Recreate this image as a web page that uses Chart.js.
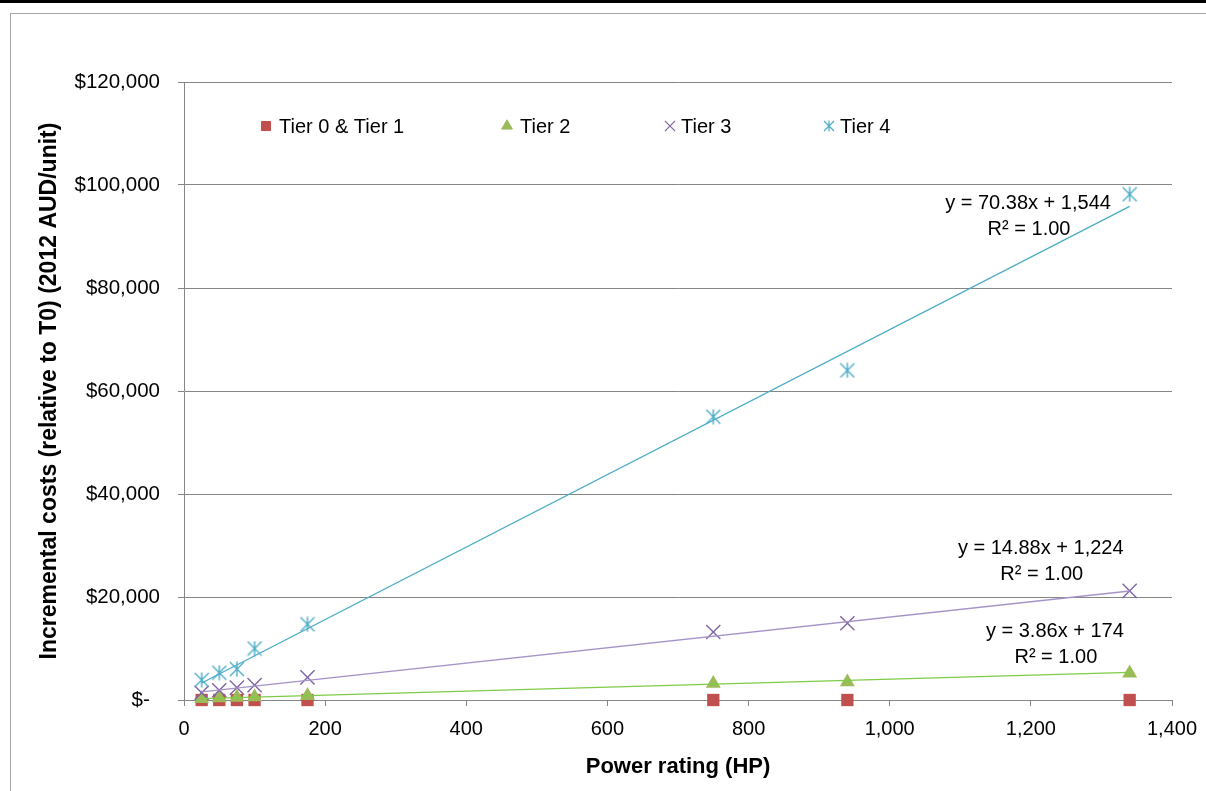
<!DOCTYPE html>
<html>
<head>
<meta charset="utf-8">
<script src="https://cdn.jsdelivr.net/npm/chart.js@4.4.0/dist/chart.umd.min.js"></script>
<style>
  html, body { margin: 0; padding: 0; background: #fff; }
  #page { position: relative; width: 1206px; height: 791px; overflow: hidden; }
  #topbar { position: absolute; left: 0; top: 0; width: 1206px; height: 3px; background: #000; }
  #frame { position: absolute; left: 10px; top: 13px; width: 1400px; height: 1000px;
           border-left: 1px solid #a6a6a6; border-top: 1px solid #a6a6a6; }
  canvas { position: absolute; left: 0; top: 0; }
</style>
</head>
<body>
<div id="page">
  <div id="topbar"></div>
  <div id="frame"></div>
  <canvas id="chart" width="1206" height="791"></canvas>
</div>
<script>
// Engine power ratings (HP) and incremental cost per unit (2012 AUD)
const powerHP = [25, 50, 75, 100, 175, 750, 940, 1340];
const tier01  = [0, 0, 0, 0, 0, 0, 0, 0];
const tier2   = [250, 400, 500, 600, 850, 3200, 3500, 5200];
const tier3   = [1400, 1900, 2400, 2900, 4400, 13200, 14900, 21200];
const tier4   = [3900, 5300, 6000, 10000, 14700, 55000, 64000, 98200];
const seriesNames = ['Tier 0 & Tier 1', 'Tier 2', 'Tier 3', 'Tier 4'];

// Linear trendlines (Tier 2, Tier 3, Tier 4)
const trendSlopes     = [3.86, 14.88, 70.38];
const trendIntercepts = [174, 1224, 1544];
const trendR2         = [1.00, 1.00, 1.00];

const xTicks = [0, 200, 400, 600, 800, 1000, 1200, 1400];
const yTicks = [0, 20000, 40000, 60000, 80000, 100000, 120000];

const FONT = 'Liberation Sans';
const C_RED = '#c0504d', C_GREEN = '#9bbb59', C_PURPLE = '#8064a2', C_CYAN = '#4bacc6';
const TREND_COLORS = ['#7ecb45', '#a593c8', '#4bacc6'];

// Asterisk marker: diagonal cross plus a vertical stroke
function asterisk(size, color, lw) {
  const c = document.createElement('canvas');
  c.width = c.height = size;
  const g = c.getContext('2d');
  g.strokeStyle = color;
  g.lineWidth = lw;
  const m = size / 2, r = size / 2 - 1;
  g.beginPath();
  g.moveTo(m - r, m - r); g.lineTo(m + r, m + r);
  g.moveTo(m + r, m - r); g.lineTo(m - r, m + r);
  g.moveTo(m, m - r - 0.5); g.lineTo(m, m + r + 0.5);
  g.stroke();
  return c;
}
const starBig = asterisk(16, C_CYAN, 1.4);
const starSmall = asterisk(12, C_CYAN, 1.2);

const pts = ys => powerHP.map((x, i) => ({ x: x, y: ys[i] }));
const trendPts = k => [powerHP[0], powerHP[powerHP.length - 1]]
  .map(x => ({ x: x, y: trendSlopes[k] * x + trendIntercepts[k] }));

const fmtInt = v => Math.round(v).toLocaleString('en-US');
const eqText = k => 'y = ' + trendSlopes[k].toFixed(2) + 'x + ' + fmtInt(trendIntercepts[k]);
const r2Text = k => 'R\u00B2 = ' + trendR2[k].toFixed(2);

// Legend drawn inside the plot area
const insideLegend = {
  id: 'insideLegend',
  afterDatasetsDraw(chart, args, opts) {
    const ctx = chart.ctx;
    ctx.save();
    ctx.font = opts.font;
    ctx.textBaseline = 'middle';
    ctx.textAlign = 'left';
    opts.items.forEach(it => {
      ctx.fillStyle = it.color;
      ctx.strokeStyle = it.color;
      ctx.lineWidth = it.lineWidth || 1;
      Chart.helpers.drawPoint(ctx, { pointStyle: it.style, radius: it.radius, rotation: 0, borderWidth: it.lineWidth || 1 }, it.sx, opts.y);
      ctx.fillStyle = '#000';
      ctx.fillText(it.label, it.tx, opts.y + 1);
    });
    ctx.restore();
  }
};

// Trendline equation labels
const trendLabels = {
  id: 'trendLabels',
  afterDatasetsDraw(chart, args, opts) {
    const ctx = chart.ctx, xs = chart.scales.x, ys = chart.scales.y;
    ctx.save();
    ctx.font = opts.font;
    ctx.fillStyle = '#000';
    ctx.textAlign = 'center';
    ctx.textBaseline = 'middle';
    opts.anchors.forEach((a, k) => {
      const px = xs.getPixelForValue(a.x), py = ys.getPixelForValue(a.y);
      ctx.fillText(eqText(k), px, py);
      ctx.fillText(r2Text(k), px + 1, py + opts.lineGap);
    });
    ctx.restore();
  }
};

new Chart(document.getElementById('chart'), {
  type: 'scatter',
  data: {
    datasets: [
      { label: seriesNames[0], data: pts(tier01), pointStyle: 'rect', pointRadius: 8.7,
        backgroundColor: C_RED, borderColor: C_RED, borderWidth: 0, order: 5 },
      { label: seriesNames[1], data: pts(tier2), pointStyle: 'triangle', pointRadius: 8.6,
        backgroundColor: C_GREEN, borderColor: C_GREEN, borderWidth: 0, order: 4 },
      { label: seriesNames[2], data: pts(tier3), pointStyle: 'crossRot', pointRadius: 10,
        backgroundColor: C_PURPLE, borderColor: C_PURPLE, borderWidth: 1.4, order: 3 },
      { label: seriesNames[3], data: pts(tier4), pointStyle: starBig, pointRadius: 8,
        backgroundColor: C_CYAN, borderColor: C_CYAN, order: 2 },
      { label: 'trend2', data: trendPts(0), showLine: true, pointRadius: 0,
        borderColor: TREND_COLORS[0], borderWidth: 1.3, order: 1 },
      { label: 'trend3', data: trendPts(1), showLine: true, pointRadius: 0,
        borderColor: TREND_COLORS[1], borderWidth: 1.3, order: 1 },
      { label: 'trend4', data: trendPts(2), showLine: true, pointRadius: 0,
        borderColor: TREND_COLORS[2], borderWidth: 1.3, order: 1 }
    ]
  },
  options: {
    responsive: false,
    animation: false,
    clip: false,
    layout: { padding: { top: 82, right: 34, left: 0, bottom: 0 } },
    plugins: {
      legend: { display: false },
      tooltip: { enabled: false },
      insideLegend: {
        font: '20px "' + FONT + '"',
        y: 126,
        items: [
          { label: seriesNames[0], style: 'rect', radius: 6.4, color: C_RED, sx: 266, tx: 279 },
          { label: seriesNames[1], style: 'triangle', radius: 6.2, color: C_GREEN, sx: 507, tx: 520 },
          { label: seriesNames[2], style: 'crossRot', radius: 7.2, color: C_PURPLE, sx: 670, tx: 681, lineWidth: 1.2 },
          { label: seriesNames[3], style: starSmall, radius: 6, color: C_CYAN, sx: 829, tx: 840 }
        ]
      },
      trendLabels: {
        font: '20px "' + FONT + '"',
        lineGap: 26,
        anchors: [
          { x: 1234, y: 13400 },
          { x: 1214, y: 29500 },
          { x: 1196, y: 96500 }
        ]
      }
    },
    scales: {
      x: {
        type: 'linear',
        min: 0, max: 1400,
        afterBuildTicks: s => { s.ticks = xTicks.map(v => ({ value: v })); },
        afterFit: s => { s.height = 91; s.paddingLeft = 0; s.paddingRight = 0; },
        border: { color: '#868686', width: 1 },
        grid: { display: true, drawOnChartArea: false, color: '#868686', tickLength: 6 },
        ticks: { font: { family: FONT, size: 20 }, color: '#000', padding: 11, maxRotation: 0,
                 callback: v => fmtInt(v) },
        title: { display: true, text: 'Power rating (HP)', color: '#000',
                 font: { family: FONT, size: 22, weight: 'bold' }, padding: { top: 0, bottom: 11 } }
      },
      y: {
        min: 0, max: 120000,
        afterBuildTicks: s => { s.ticks = yTicks.map(v => ({ value: v })); },
        afterFit: s => { s.width = 184; s.paddingTop = 0; s.paddingBottom = 0; },
        border: { color: '#868686', width: 1 },
        grid: { color: '#868686', lineWidth: 1, tickLength: 6 },
        ticks: { font: { family: FONT, size: 20.5 }, color: '#000', padding: 18,
                 callback: v => v === 0 ? '$-\u2002' : '$' + fmtInt(v) },
        title: { display: true, text: 'Incremental costs (relative to T0) (2012 AUD/unit)', color: '#000',
                 font: { family: FONT, size: 23, weight: 'bold' }, padding: { top: 36, bottom: 0 } }
      }
    }
  },
  plugins: [insideLegend, trendLabels]
});
</script>
</body>
</html>
